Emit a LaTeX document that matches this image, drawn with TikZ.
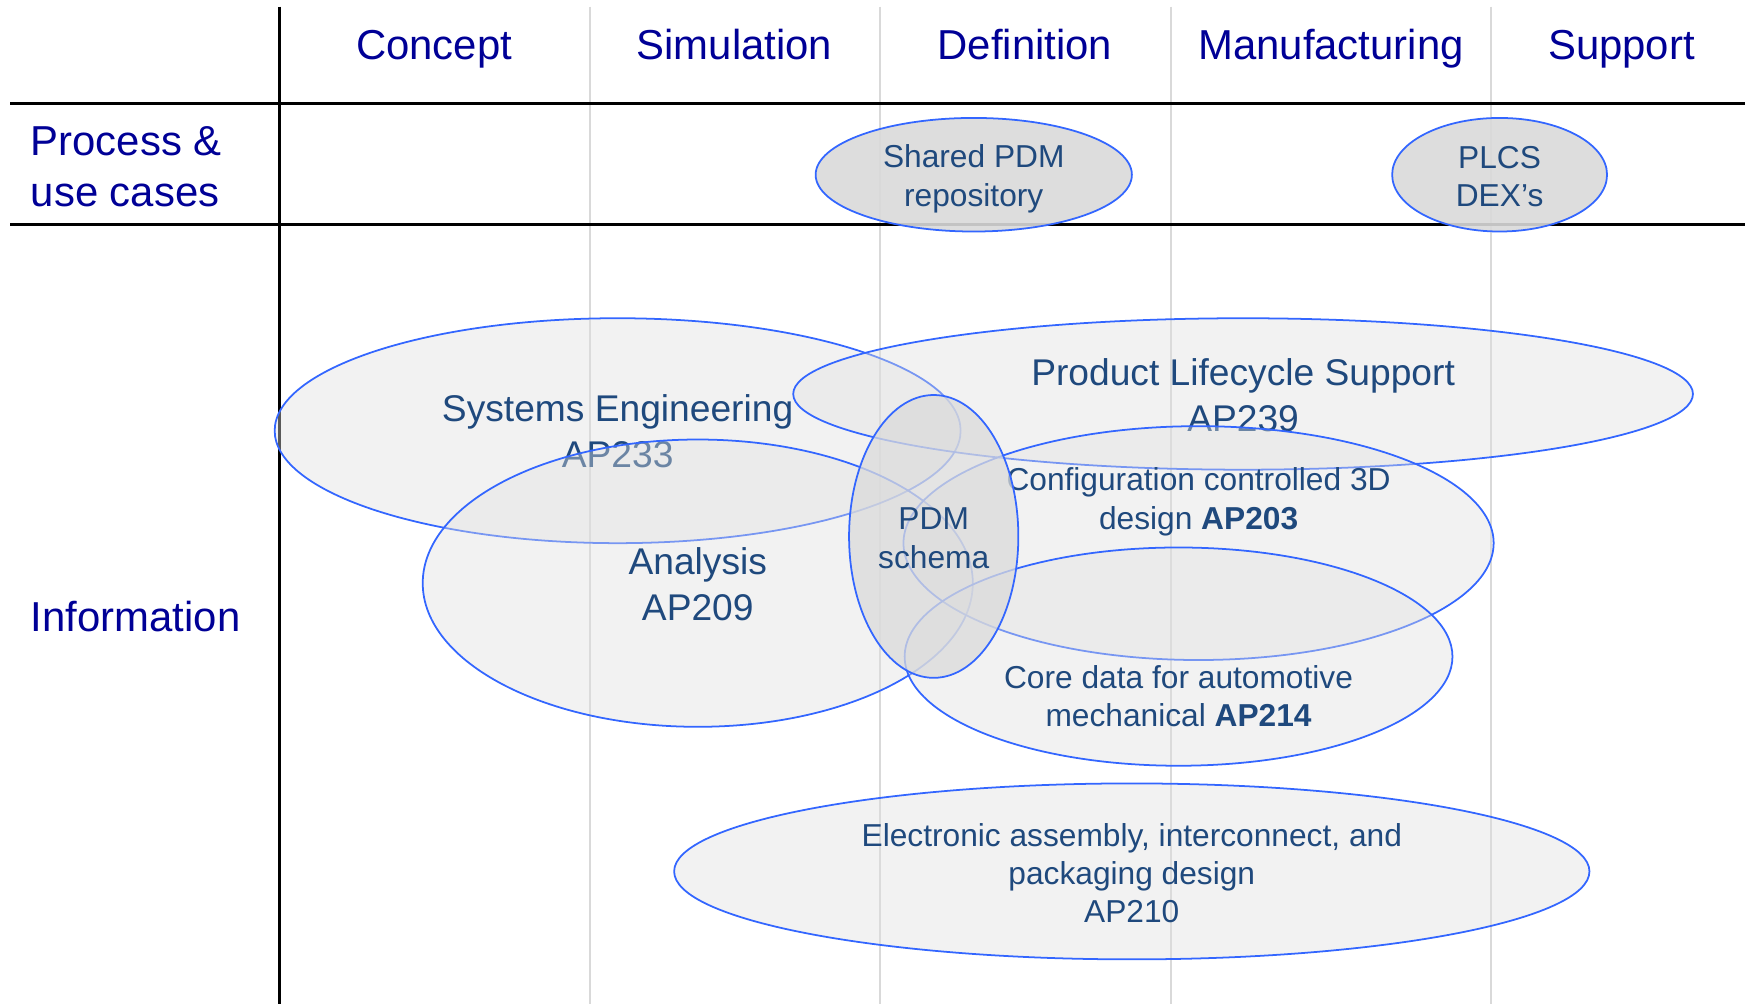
\documentclass[tikz,border=0pt]{standalone}
\usepackage{fontspec}
\setmainfont{Liberation Sans}
\usetikzlibrary{shapes.geometric}
\definecolor{hdr}{RGB}{0,0,150}
\definecolor{txt}{RGB}{31,73,125}
\definecolor{edge}{RGB}{51,102,255}
\definecolor{gridgrey}{RGB}{217,217,217}
\tikzset{
 blob/.style={ellipse, draw=edge, line width=0.45pt, fill=black!12.5, fill opacity=0.4, text opacity=1, inner sep=0pt},
 pdmblob/.style={blob, fill=black!14, fill opacity=0.75},
 topblob/.style={blob, fill=black!15, fill opacity=0.9},
 hdrtext/.style={text=hdr, font=\fontsize{10.7}{13}\selectfont, inner sep=0pt},
 bigtext/.style={text=txt, font=\fontsize{9.5}{11.6}\selectfont, align=center, inner sep=0pt},
 smalltext/.style={text=txt, font=\fontsize{8.1}{9.8}\selectfont, align=center, inner sep=0pt},
 gridline/.style={draw=gridgrey, line width=0.6pt},
 rule/.style={draw=black, line width=0.8pt},
}
\begin{document}
\begin{tikzpicture}[x=0.01cm, y=-0.01cm]
\useasboundingbox (0,0) rectangle (1568,902);
% grid
\foreach \gx in {530,791,1052,1340} \draw[gridline] (\gx,6) -- (\gx,902);
\draw[rule] (251,6) -- (251,902);
\draw[rule] (9,93) -- (1568,93);
\draw[rule] (9,202) -- (1568,202);
% headers
\node[hdrtext, anchor=base] (h1) at (390,53.5) {Concept};
\node[hdrtext, anchor=base] (h2) at (660,53.5) {Simulation};
\node[hdrtext, anchor=base] (h3) at (921,53.5) {Definition};
\node[hdrtext, anchor=base] (h4) at (1196,53.5) {Manufacturing};
\node[hdrtext, anchor=base] (h5) at (1457,53.5) {Support};
\node[hdrtext, anchor=west, align=left] (r1) at (27,150) {Process \&\\use cases};
\node[hdrtext, anchor=west] (r2) at (27,554) {Information};
% ellipses
\node[blob, minimum width=6.16cm, minimum height=2.02cm] (se) at (555,387) {};
\node[bigtext] (set) at (555,387.5) {Systems Engineering\\AP233};
\node[blob, minimum width=8.08cm, minimum height=1.36cm] (pls) at (1117,354) {};
\node[bigtext] (plst) at (1117,355) {Product Lifecycle Support\\AP239};
\node[blob, minimum width=4.94cm, minimum height=2.58cm] (an) at (627,524) {};
\node[bigtext] (ant) at (627,525) {Analysis\\AP209};
\node[blob, minimum width=5.30cm, minimum height=2.10cm] (a203) at (1077,488) {};
\node[smalltext] (a203t) at (1077,451) {Configuration controlled 3D\\design \textbf{AP203}};
\node[blob, minimum width=4.92cm, minimum height=1.96cm] (a214) at (1059,590) {};
\node[smalltext] (a214t) at (1059,625.5) {Core data for automotive\\mechanical \textbf{AP214}};
\node[pdmblob, minimum width=1.52cm, minimum height=2.54cm] (pdm) at (839,482) {};
\node[smalltext] (pdmt) at (839,483.5) {PDM\\schema};
\node[blob, minimum width=8.22cm, minimum height=1.58cm] (a210) at (1017,783) {};
\node[smalltext] (a210t) at (1017,784.5) {Electronic assembly, interconnect, and\\packaging design\\AP210};
\node[topblob, minimum width=2.84cm, minimum height=1.02cm] (spdm) at (875,157) {};
\node[smalltext] (spdmt) at (875,160.5) {Shared PDM\\repository};
\node[topblob, minimum width=1.93cm, minimum height=1.02cm] (plcs) at (1347.5,157) {};
\node[smalltext] (plcst) at (1347.5,158.5) {PLCS\\DEX’s};
\end{tikzpicture}
\end{document}
